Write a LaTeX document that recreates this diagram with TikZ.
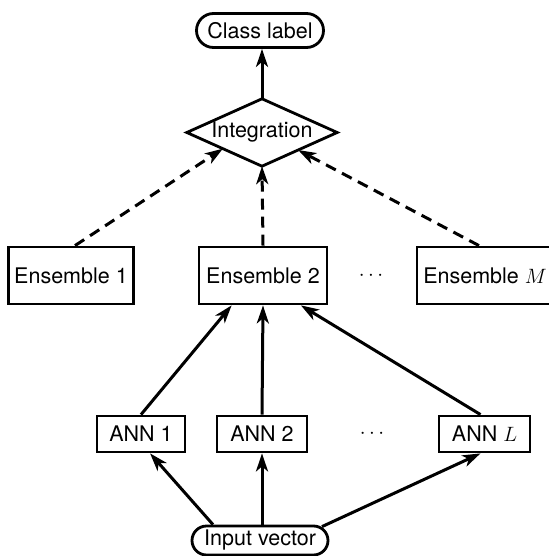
\documentclass[tikz,border=0pt]{standalone}
\usepackage{fontspec}
\setmainfont{TeX Gyre Heros}
\usetikzlibrary{calc,arrows.meta,shapes.misc}
\begin{document}
\begin{tikzpicture}[x=1pt,y=1pt,
  every node/.style={font=\fontsize{21.5}{25}\selectfont, inner sep=0pt},
  box/.style={draw, line width=2.8pt, rectangle, minimum height=57pt},
  smallbox/.style={draw, line width=2.8pt, rectangle, minimum height=36pt},
  pill/.style={draw, line width=2.8pt, rounded rectangle},
  link/.style={line width=3pt, -{Stealth[length=18pt,width=12pt,inset=5pt]}},
  dlink/.style={link, dash pattern=on 11pt off 7pt}]
\useasboundingbox (0,0) rectangle (548,-556);

% top: class label and integration step
\node[pill, minimum width=127pt, minimum height=34pt] (cls) at (260,-30.5) {Class label};
\node[minimum width=150pt, minimum height=67pt] (intg) at (262,-132.5) {Integration};
\draw[line width=2.8pt, line join=miter] (intg.west) -- (intg.north) -- (intg.east) -- (intg.south) -- cycle;

% ensembles
\node[box, minimum width=125pt] (ens1) at (71,-275.5) {Ensemble 1};
\node[box, minimum width=128pt] (ens2) at (263,-275.5) {Ensemble 2};
\node[box, minimum width=136pt] (ensM) at (485,-275.5) {Ensemble $M$};
\node (dotsE) at (371,-275.5) {$\cdots$};

% networks
\node[smallbox, minimum width=88pt] (ann1) at (141,-434) {ANN 1};
\node[smallbox, minimum width=90pt] (ann2) at (262,-434) {ANN 2};
\node[smallbox, minimum width=91pt] (annL) at (484.5,-434) {ANN $L$};
\node (dotsA) at (372,-434) {$\cdots$};

% input
\node[pill, minimum width=136pt, minimum height=29pt] (inp) at (260,-540.5) {Input vector};

% connectors
\draw[link] (intg.north) -- (intg.north |- cls.south);
\draw[dlink] ($(ens1.north)+(4,0)$) -- ($(intg.west)!0.48!(intg.south)$);
\draw[dlink] (ens2.north) -- (intg.south);
\draw[dlink] ($(ensM.north)+(-6,0)$) -- ($(intg.east)!0.52!(intg.south)$);

\draw[link] (ann1.north) -- ($(ens2.south west)!0.26!(ens2.south east)$);
\draw[link] (ann2.north) -- (ens2.south);
\draw[link] ($(annL.north)+(-4,0)$) -- ($(ens2.south west)!0.79!(ens2.south east)$);

\draw[link] ($(inp.north)+(-47,0)$) -- ($(ann1.south west)!0.6!(ann1.south east)$);
\draw[link] (inp.north -| ann2.south) -- (ann2.south);
\draw[link] ($(inp.north)+(62,-2)$) -- ($(annL.south)+(-4,0)$);
\end{tikzpicture}
\end{document}
